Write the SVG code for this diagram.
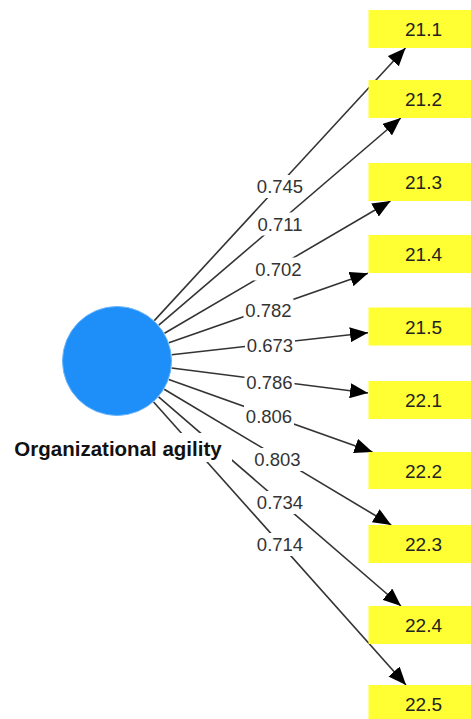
<svg xmlns="http://www.w3.org/2000/svg" width="471" height="719" viewBox="0 0 471 719">
<defs>
<style>
.box{fill:#ffff33;}
.bt{font-family:"Liberation Sans",Arial,sans-serif;font-size:19px;fill:#222;text-anchor:middle;}
.edge{stroke:#333;stroke-width:1.6;fill:none;marker-end:url(#ah);}
.lb{font-family:"Liberation Sans",Arial,sans-serif;font-size:18.5px;fill:#333;text-anchor:middle;}
.lbg{fill:#fff;}
.nt{font-family:"Liberation Sans",Arial,sans-serif;font-size:20.5px;font-weight:bold;fill:#111;text-anchor:middle;}
</style>
<marker id="ah" markerUnits="userSpaceOnUse" markerWidth="19" markerHeight="15" refX="18" refY="7.5" orient="auto">
<path d="M0,0 L18,7.5 L0,15 z" fill="#000"/>
</marker>
</defs>
<rect width="471" height="719" fill="#fff"/>
<g id="connectors">
<line class="edge" x1="154.3" y1="320.6" x2="405.5" y2="48"/>
<line class="edge" x1="158.8" y1="325.2" x2="400.8" y2="118"/>
<line class="edge" x1="164.5" y1="333.2" x2="390.5" y2="201"/>
<line class="edge" x1="168.9" y1="342.8" x2="368" y2="273.2"/>
<line class="edge" x1="171.7" y1="354.8" x2="368" y2="332.7"/>
<line class="edge" x1="171.6" y1="368" x2="368" y2="393"/>
<line class="edge" x1="168.8" y1="379.5" x2="372.5" y2="452"/>
<line class="edge" x1="164.2" y1="389.2" x2="391.2" y2="525"/>
<line class="edge" x1="158.6" y1="396.9" x2="401" y2="606"/>
<line class="edge" x1="153.6" y1="402" x2="406" y2="685"/>
<g id="edge-labels">
<rect class="lbg" x="255" y="175" width="50" height="23"/><text class="lb" x="280" y="193">0.745</text>
<rect class="lbg" x="255" y="212.5" width="50" height="23"/><text class="lb" x="280" y="230.5">0.711</text>
<rect class="lbg" x="253.5" y="257.5" width="50" height="23"/><text class="lb" x="278.5" y="275.5">0.702</text>
<rect class="lbg" x="243.5" y="298.5" width="50" height="23"/><text class="lb" x="268.5" y="316.5">0.782</text>
<rect class="lbg" x="245" y="333.5" width="50" height="23"/><text class="lb" x="270" y="351.5">0.673</text>
<rect class="lbg" x="244.5" y="371" width="50" height="23"/><text class="lb" x="269.5" y="389">0.786</text>
<rect class="lbg" x="244" y="404.5" width="50" height="23"/><text class="lb" x="269" y="422.5">0.806</text>
<rect class="lbg" x="252.5" y="448" width="50" height="23"/><text class="lb" x="277.5" y="466">0.803</text>
<rect class="lbg" x="255" y="491" width="50" height="23"/><text class="lb" x="280" y="509">0.734</text>
<rect class="lbg" x="255" y="533" width="50" height="23"/><text class="lb" x="280" y="551">0.714</text>
</g>
</g>
<g id="node-org">
<circle cx="117" cy="361" r="54.5" fill="#1e8ff8" stroke="#6db6fb" stroke-width="1"/>
<rect x="10" y="433" width="222" height="29" fill="#fff"/>
<text class="nt" x="118" y="456">Organizational agility</text>
</g>
<g id="node-21-1"><rect class="box" x="368.5" y="10" width="110" height="38"/><text class="bt" x="423.5" y="36">21.1</text></g>
<g id="node-21-2"><rect class="box" x="368.5" y="80" width="110" height="38"/><text class="bt" x="423.5" y="106">21.2</text></g>
<g id="node-21-3"><rect class="box" x="368.5" y="163" width="110" height="38"/><text class="bt" x="423.5" y="189">21.3</text></g>
<g id="node-21-4"><rect class="box" x="368.5" y="235" width="110" height="38"/><text class="bt" x="423.5" y="261">21.4</text></g>
<g id="node-21-5"><rect class="box" x="368.5" y="307.5" width="110" height="38"/><text class="bt" x="423.5" y="333.5">21.5</text></g>
<g id="node-22-1"><rect class="box" x="368.5" y="381" width="110" height="38"/><text class="bt" x="423.5" y="407">22.1</text></g>
<g id="node-22-2"><rect class="box" x="368.5" y="452" width="110" height="37"/><text class="bt" x="423.5" y="477.5">22.2</text></g>
<g id="node-22-3"><rect class="box" x="368.5" y="525" width="110" height="38"/><text class="bt" x="423.5" y="551">22.3</text></g>
<g id="node-22-4"><rect class="box" x="368.5" y="606" width="110" height="38"/><text class="bt" x="423.5" y="632">22.4</text></g>
<g id="node-22-5"><rect class="box" x="368.5" y="685" width="110" height="38"/><text class="bt" x="423.5" y="711">22.5</text></g>
</svg>
